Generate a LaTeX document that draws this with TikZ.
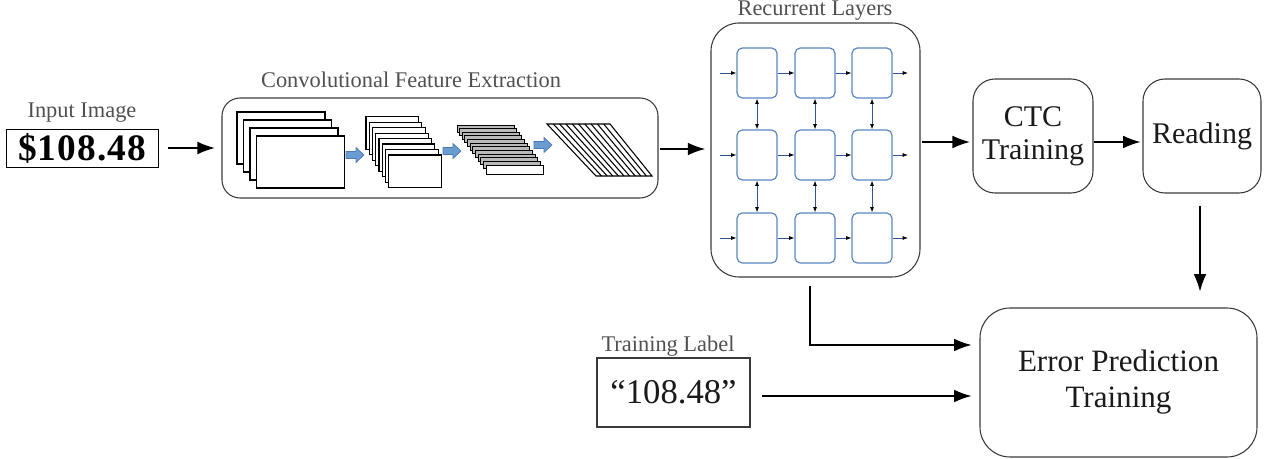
\documentclass[tikz,border=0pt]{standalone}
\usepackage{fontspec}
\setmainfont{Liberation Serif}
\usetikzlibrary{arrows.meta}
\definecolor{cellblue}{HTML}{5B86C2}
\definecolor{linkblue}{HTML}{2E5597}
\definecolor{arrowfill}{HTML}{6A9BD1}
\definecolor{arrowedge}{HTML}{4A7AB5}
\definecolor{titlegray}{HTML}{505050}
\definecolor{boxgray}{HTML}{3A3A3A}
\definecolor{textdark}{HTML}{1A1A1A}
\tikzset{
  title/.style={text=titlegray, font=\fontsize{16.8}{18}\selectfont, inner sep=0pt},
  rbox/.style={draw=boxgray, line width=0.8pt, rounded corners=#1, inner sep=0pt, text=textdark},
  rbox/.default=16pt,
  cell/.style={draw=cellblue, line width=0.9pt, rounded corners=4pt, minimum width=30pt, minimum height=37.5pt, inner sep=0pt},
  arr/.style={line width=0.9pt, -{Latex[length=13pt,width=9.5pt]}},
  sarr/.style={draw=linkblue, line width=0.6pt, -{Latex[length=4pt,width=3pt,color=black]}},
  darr/.style={draw=linkblue, line width=0.6pt, {Latex[length=4pt,width=3pt,color=black]}-{Latex[length=4pt,width=3pt,color=black]}},
  fmap/.style={draw=black, fill=white, line width=0.9pt},
  barrow/.style={fill=arrowfill, draw=arrowedge, line width=0.5pt}
}
\begin{document}
\begin{tikzpicture}[x=0.75pt,y=-0.75pt]
\useasboundingbox (0,0) rectangle (1264,459);

% titles
\node[title] (t_in) at (82,113) {Input Image};
\node[title] (t_conv) at (411,80) {Convolutional Feature Extraction};
\node[title] (t_rec) at (815,11) {Recurrent Layers};
\node[title] (t_lab) at (668,346) {Training Label};

% input image
\node[draw=black, line width=0.8pt, minimum width=113.5pt, minimum height=28pt, inner sep=0pt,
      font=\fontsize{28}{30}\selectfont\bfseries] (inp) at (82.5,148.5) {\$1\kern1pt0\kern1pt8\kern1pt.\kern1pt4\kern1pt8};

% conv box
\node[rbox=13.5pt, minimum width=327pt, minimum height=75pt] (conv) at (440,148) {};
% stack 1
\foreach \i in {0,...,3}
  \draw[fmap] (237+6.5*\i,112+8*\i) rectangle ++(88,52);
% stack 2
\foreach \i in {0,...,7}
  \draw[fmap] (366+3.25*\i,116.7+5.47*\i) rectangle ++(52.6,32.7);
% stack 3
\foreach \i in {0,...,10}
  \draw[fmap, fill=gray!55, line width=0.7pt] (457+2.64*\i,125+3.64*\i) rectangle ++(57,7);
\draw[fmap, line width=0.7pt] (486,165) rectangle ++(57,9);
% parallelogram
\draw[line width=0.8pt] (547,124) -- (610,124) -- (652,176) -- (596,176) -- cycle;
\foreach \k in {1,...,9}
  \draw[line width=0.8pt] (547+6.3*\k,124) -- (596+5.6*\k,176);
% blue arrows
\foreach \x/\y in {346/155, 443/151, 534/145}
  \draw[barrow] (\x,\y-3.5) -- (\x+10,\y-3.5) -- (\x+10,\y-7.5) -- (\x+18,\y) -- (\x+10,\y+7.5) -- (\x+10,\y+3.5) -- (\x,\y+3.5) -- cycle;

% recurrent box
\node[rbox=21pt, minimum width=156.75pt, minimum height=190.5pt] (rec) at (815.5,150) {};
\foreach \r/\y in {1/73, 2/155, 3/238} {
  \foreach \c/\x in {1/757, 2/815, 3/872}
    \node[cell] (c\r\c) at (\x,\y) {};
  \coordinate (in\r) at (720,\y);
  \coordinate (out\r) at (908,\y);
  \draw[sarr] (in\r) -- (c\r1.west);
  \draw[sarr] (c\r1.east) -- (c\r2.west);
  \draw[sarr] (c\r2.east) -- (c\r3.west);
  \draw[sarr] (c\r3.east) -- (out\r);
}
\foreach \c in {1,2,3} {
  \draw[darr] (c1\c.south) -- (c2\c.north);
  \draw[darr] (c2\c.south) -- (c3\c.north);
}

% CTC, Reading
\node[rbox=16.5pt, minimum width=90pt, minimum height=85.5pt, align=center,
      font=\fontsize{22.5}{24.75}\selectfont] (ctc) at (1033,136) {CTC\\Training};
\node[rbox=16.5pt, minimum width=88.5pt, minimum height=85.5pt,
      font=\fontsize{22.5}{24.75}\selectfont] (read) at (1202,136) {Reading};

% error prediction
\node[rbox=22.5pt, minimum width=207.75pt, minimum height=111.75pt, align=center,
      font=\fontsize{23.3}{27}\selectfont] (err) at (1118.5,382.5) {Error Prediction\\Training};

% training label
\node[draw=boxgray, line width=0.8pt, minimum width=114.75pt, minimum height=51.75pt, inner sep=0pt,
      text=textdark, font=\fontsize{26}{28}\selectfont] (lab) at (673.5,392.5) {“108.48”};

% connectors
\coordinate (a0) at (168,148);
\draw[arr] (a0) -- ([xshift=-5pt]conv.west |- a0);
\coordinate (a1) at (660,149);
\draw[arr] (a1) -- ([xshift=-4pt]rec.west |- a1);
\coordinate (a2) at (922,142);
\draw[arr] (a2) -- ([xshift=-2pt]ctc.west |- a2);
\coordinate (a3) at (1094,142);
\draw[arr] (a3) -- ([xshift=-1.5pt]read.west |- a3);
\draw[arr, shorten <=9pt, shorten >=12pt] ([xshift=-1.5pt]read.south) -- ([xshift=-1.5pt]read.south |- err.north);
\coordinate (bend) at (810,345);
\draw[arr, shorten <=6pt, shorten >=6pt] (rec.south -| bend) -- (bend) -- (err.west |- bend);
\coordinate (a4) at (762,396);
\draw[arr, shorten >=6pt] (a4) -- (err.west |- a4);
\end{tikzpicture}
\end{document}
